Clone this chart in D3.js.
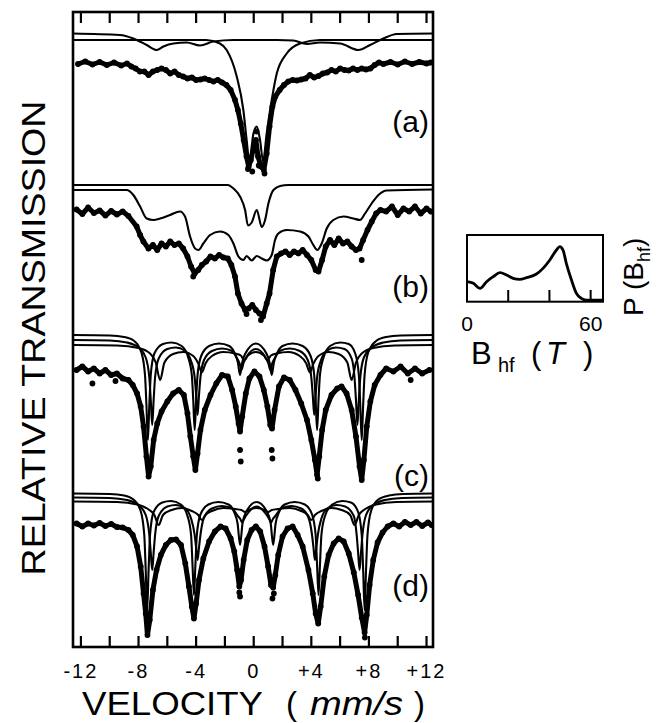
<!DOCTYPE html>
<html>
<head>
<meta charset="utf-8">
<script src="https://cdn.jsdelivr.net/npm/d3@7"></script>
<style>
  body { margin: 0; background: #fff; }
  svg { display: block; }
  text { font-family: "Liberation Sans", Arial, Helvetica, sans-serif; fill: #000; }
</style>
</head>
<body>
<div id="chart"></div>
<script>
// Mossbauer spectra (a)-(d) with subspectra, plus P(Bhf) inset

// velocity axis
const velTicks = [-12, -10, -8, -6, -4, -2, 0, 2, 4, 6, 8, 10, 12];
const velLabelVals = [-12, -8, -4, 0, 4, 8, 12];
const velLabelText = ["-12", "-8", "-4", "0", "+4", "+8", "+12"];
const panelNames = ["(a)", "(b)", "(c)", "(d)"];

// (a) measured points [velocity, transmission %]
const specA = [[-12.2,99.8],[-11.7,100.3],[-11.2,99.7],[-10.7,100.2],[-10.2,99.6],[-9.7,100.1],[-9.2,99.5],[-8.8,99.9],[-8.5,99.3],[-8.2,98.9],[-7.9,98.3],[-7.6,98.3],[-7.3,97.6],[-7.0,98.3],[-6.7,98.6],[-6.4,98.9],[-6.1,98.6],[-5.8,97.9],[-5.5,98.3],[-5.2,97.6],[-4.9,97.3],[-4.6,96.9],[-4.3,97.1],[-4.0,96.6],[-3.7,96.7],[-3.4,96.9],[-3.1,96.6],[-2.8,96.3],[-2.5,96.6],[-2.2,96.1],[-1.9,95.6],[-1.6,94.6],[-1.3,92.6],[-1.1,90.6],[-0.9,87.9],[-0.7,84.6],[-0.5,81.3],[-0.35,79.3],[-0.2,80.6],[0.0,83.3],[0.15,84.6],[0.3,81.3],[0.5,79.3],[0.7,78.6],[0.9,81.9],[1.1,87.3],[1.3,91.3],[1.5,93.3],[1.8,94.6],[2.1,95.6],[2.4,96.3],[2.7,96.6],[3.0,96.5],[3.3,96.7],[3.6,96.9],[3.9,97.6],[4.2,97.1],[4.5,97.4],[4.8,97.9],[5.1,98.1],[5.4,98.6],[5.7,98.3],[6.0,98.9],[6.3,98.6],[6.6,98.5],[6.9,98.9],[7.2,98.6],[7.5,98.9],[7.8,98.7],[8.1,98.9],[8.4,99.6],[8.7,100.1],[9.0,99.8],[9.5,100.2],[10.0,99.7],[10.5,100.3],[11.0,99.8],[11.5,100.2],[12.0,99.9],[12.3,100.1]];
const strayA = [[-0.1,78.3],[0.2,86.3],[0.35,79.5],[-0.4,78.8],[0.75,77.9]];
const fitA1 = [[-12.55,104.6],[-3.3,104.6],[-2.35,103.9],[-1.88,102.6],[-1.18,97.3],[-0.72,90.6],[-0.49,84.6],[-0.3,80.3],[-0.02,85.9],[0.21,87.3],[0.44,84.6],[0.65,80.3],[0.9,85.9],[1.25,92.6],[1.6,97.9],[2.29,101.9],[3.22,103.9],[4.6,104.6],[12.45,104.6]];
const fitA2 = [[-12.55,105.9],[-9.3,105.6],[-8.36,104.9],[-7.43,103.6],[-6.74,102.6],[-6.27,103.3],[-5.58,103.9],[-4.65,104.1],[-3.73,103.5],[-2.8,104.3],[-1.41,104.6],[1.6,104.6],[2.75,104.5],[3.68,103.8],[4.61,104.1],[6.0,103.9],[7.27,102.6],[8.08,103.6],[9.0,104.9],[9.93,105.8],[12.45,105.9]];

// (b)
const specB = [[-12.3,100.5],[-11.9,99.6],[-11.5,100.9],[-11.1,99.8],[-10.7,100.3],[-10.3,99.3],[-9.9,100.2],[-9.5,99.5],[-9.1,100.1],[-8.7,99.2],[-8.13,97.1],[-7.89,95.4],[-7.66,94.1],[-7.31,92.7],[-7.0,93.4],[-6.7,92.4],[-6.4,93.7],[-6.1,93.1],[-5.8,94.1],[-5.5,93.4],[-5.2,93.7],[-4.9,92.7],[-4.6,91.1],[-4.35,89.1],[-4.1,87.7],[-3.85,88.4],[-3.6,89.4],[-3.3,90.1],[-3.0,91.1],[-2.7,90.7],[-2.4,91.4],[-2.1,90.9],[-1.8,90.7],[-1.55,89.4],[-1.3,87.1],[-1.1,83.7],[-0.85,81.7],[-0.6,80.4],[-0.35,80.7],[-0.1,81.4],[0.15,80.4],[0.4,79.7],[0.65,79.1],[0.9,81.7],[1.1,83.7],[1.35,88.4],[1.6,91.1],[1.9,91.7],[2.2,92.1],[2.5,91.4],[2.8,92.1],[3.1,91.7],[3.4,92.4],[3.7,91.4],[4.0,90.4],[4.3,88.4],[4.5,88.1],[4.75,90.4],[5.0,93.1],[5.3,94.4],[5.6,93.4],[5.9,94.7],[6.2,93.7],[6.5,94.1],[6.8,93.1],[7.1,92.4],[7.35,92.7],[7.6,94.4],[7.9,96.4],[8.2,98.1],[8.5,99.7],[8.8,100.4],[9.2,100.1],[9.6,101.1],[10.0,99.4],[10.4,100.7],[10.8,100.1],[11.2,101.1],[11.6,99.7],[12.0,100.7],[12.3,100.1]];
const strayB = [[7.5,90.4],[-4.2,87.1],[0.5,78.4],[-0.5,79.6]];
const fitB1 = [[-12.55,105.4],[-1.8,105.4],[-1.41,104.7],[-0.95,103.1],[-0.6,100.4],[-0.4,97.3],[-0.14,97.9],[0.21,100.4],[0.56,97.0],[0.79,98.4],[1.02,101.7],[1.37,104.4],[1.83,105.2],[2.4,105.4],[12.45,105.4]];
const fitB2 = [[-12.55,104.4],[-8.82,104.4],[-8.36,103.4],[-7.89,101.1],[-7.43,98.7],[-6.97,98.4],[-6.5,98.7],[-5.81,99.4],[-5.12,100.1],[-4.77,99.1],[-4.42,95.1],[-4.07,92.7],[-3.84,92.4],[-3.5,93.7],[-3.03,95.4],[-2.34,96.1],[-1.76,95.4],[-1.41,93.7],[-1.06,91.1],[-0.72,90.4],[-0.49,91.2],[-0.14,90.3],[0.21,91.2],[0.56,90.7],[0.9,90.3],[1.25,91.4],[1.48,94.4],[1.71,95.7],[2.29,96.4],[3.22,96.1],[3.8,95.1],[4.14,93.4],[4.42,92.4],[4.72,93.7],[5.07,96.7],[5.53,98.4],[6.23,99.1],[6.92,98.7],[7.38,98.4],[7.73,99.7],[8.19,101.7],[8.66,103.4],[9.24,104.3],[12.45,104.5]];

// (c)
const specC = [[-12.3,100],[-11.9,100.7],[-11.5,99.7],[-11.1,100.3],[-10.7,99.3],[-10.3,100],[-9.9,99],[-9.5,99.3],[-9.1,98.3],[-8.7,98],[-8.4,97],[-8.1,95.3],[-7.85,92.7],[-7.65,88.7],[-7.45,82.7],[-7.3,78.7],[-7.15,80.7],[-6.95,86],[-6.7,89.3],[-6.4,91.7],[-6.0,93.7],[-5.6,95.3],[-5.2,96],[-4.85,95],[-4.6,91.3],[-4.4,86.7],[-4.2,82.7],[-4.05,80],[-3.9,83.3],[-3.7,88],[-3.4,92],[-3.0,95],[-2.6,97.3],[-2.2,99],[-1.8,98.7],[-1.5,96],[-1.25,92.7],[-1.05,89.3],[-0.95,87.7],[-0.8,90.7],[-0.55,95.3],[-0.3,98.3],[0.05,99.7],[0.4,98.7],[0.7,96],[0.95,92.7],[1.15,89],[1.27,88.3],[1.45,92],[1.75,96.7],[2.1,98.5],[2.5,98],[2.9,96],[3.3,93.3],[3.7,90],[4.0,86],[4.25,82],[4.4,79],[4.55,82.7],[4.75,88],[5.0,92],[5.4,95],[5.8,96.3],[6.1,96.7],[6.45,95.3],[6.8,92],[7.1,86.7],[7.35,80.7],[7.5,78],[7.65,82],[7.85,88.7],[8.1,93.7],[8.4,97],[8.8,99],[9.2,100.3],[9.7,99.7],[10.2,100.7],[10.7,99.3],[11.2,100.3],[11.7,99.3],[12.2,100]];
const strayC = [[-0.95,84],[-0.9,81.7],[1.25,84],[1.3,82.3],[4.45,78.3],[-11.2,97.3],[10.9,98],[-9.6,97.8]];
const fitC1 = [[-12.55,107],[-10,106.9],[-9,106.6],[-8.3,105.8],[-7.8,103.5],[-7.55,99],[-7.45,93],[-7.35,86],[-7.25,93],[-7.15,99],[-6.9,103.3],[-6.3,105.2],[-5.7,105.5],[-5.0,104.8],[-4.55,102.5],[-4.3,99],[-4.2,94],[-4.1,88],[-4.0,94],[-3.9,99],[-3.65,102.8],[-3.1,104.8],[-2.4,105.3],[-1.7,104.8],[-1.3,103.2],[-1.1,101.5],[-0.95,99],[-0.8,101.5],[-0.6,103.2],[0.15,105.3],[0.9,103.2],[1.1,101.5],[1.25,99],[1.4,101.5],[1.6,103.2],[2.0,104.8],[2.7,105.3],[3.4,104.8],[3.95,102.8],[4.2,99],[4.3,94],[4.4,88],[4.5,94],[4.6,99],[4.85,102.5],[5.3,104.8],[6.0,105.5],[6.6,105.2],[7.05,103.3],[7.3,99],[7.4,93],[7.5,86],[7.6,93],[7.7,99],[7.95,103.5],[8.5,105.8],[9.2,106.6],[10.2,106.9],[12.45,107]];
const fitC2 = [[-12.55,106],[-10,105.9],[-8.8,105.5],[-8.0,104.5],[-7.5,102.5],[-7.25,98.5],[-7.15,94],[-7.05,89],[-6.95,94],[-6.85,98.5],[-6.6,102.3],[-6.0,104.2],[-5.4,104.5],[-4.8,103.9],[-4.35,101.8],[-4.1,98.5],[-4.0,95],[-3.9,91],[-3.8,95],[-3.7,98.5],[-3.45,102],[-2.9,103.8],[-2.2,104.3],[-1.5,103.8],[-1.15,102.3],[-0.98,101.3],[-0.85,100],[-0.72,101.3],[-0.5,102.6],[0.15,104.2],[0.8,102.6],[1.02,101.3],[1.15,100],[1.28,101.3],[1.45,102.3],[1.8,103.8],[2.5,104.3],[3.2,103.8],[3.75,102],[4.0,98.5],[4.1,95],[4.2,91],[4.3,95],[4.4,98.5],[4.65,101.8],[5.1,103.9],[5.7,104.5],[6.3,104.2],[6.8,102.3],[7.0,98.5],[7.1,94],[7.2,89],[7.3,94],[7.4,98.5],[7.65,102.5],[8.2,104.5],[9.0,105.5],[10.2,105.9],[12.45,106]];
const fitC3 = [[-12.55,105],[-9.5,104.9],[-8.0,104.4],[-7.2,103.3],[-6.8,101.5],[-6.5,98],[-6.2,101.5],[-5.6,103.2],[-4.9,103.6],[-4.2,102.8],[-3.85,101.3],[-3.6,99.5],[-3.35,101.3],[-2.9,102.8],[-2.1,103.6],[-1.3,103.3],[-0.9,102.9],[-0.65,102],[-0.4,102.9],[0.15,103.6],[0.7,102.9],[0.95,102],[1.2,102.9],[1.6,103.3],[2.4,103.6],[3.2,102.8],[3.65,101.3],[3.9,99.5],[4.15,101.3],[4.5,102.8],[5.2,103.6],[5.9,103.2],[6.5,101.5],[6.8,98],[7.1,101.5],[7.5,103.3],[8.3,104.4],[9.8,104.9],[12.45,105]];

// (d)
const specD = [[-12.3,100.3],[-11.9,99.7],[-11.5,100.3],[-11.1,99.9],[-10.7,100.4],[-10.3,99.8],[-9.9,100.2],[-9.5,99.6],[-9.1,99.5],[-8.7,99],[-8.4,98],[-8.1,95.7],[-7.85,91.7],[-7.65,86.3],[-7.5,82.3],[-7.38,78],[-7.22,81],[-7.0,87],[-6.75,91],[-6.45,94],[-6.1,96],[-5.75,97],[-5.4,97.1],[-5.05,96],[-4.75,92.3],[-4.5,87.7],[-4.3,83.7],[-4.15,81.3],[-4.0,84.3],[-3.8,89],[-3.5,93.3],[-3.1,96.7],[-2.7,98.7],[-2.3,99.7],[-1.95,99.3],[-1.6,97.3],[-1.35,94.7],[-1.15,91],[-1.0,87.7],[-0.88,89],[-0.7,93],[-0.45,97],[-0.15,99],[0.15,99.7],[0.45,98.7],[0.75,95.7],[1.0,91.7],[1.2,88],[1.35,87.5],[1.5,90],[1.7,94],[2.0,97.7],[2.35,99.3],[2.7,99.7],[3.05,98],[3.4,95.7],[3.8,91],[4.1,86.3],[4.3,82.3],[4.48,80.3],[4.65,83.7],[4.9,89.7],[5.2,94],[5.55,96.3],[5.9,97.3],[6.25,96.7],[6.6,94.3],[6.95,90.5],[7.25,86],[7.5,81.5],[7.7,78.5],[7.85,82],[8.05,88],[8.3,93],[8.6,96.5],[8.95,98.5],[9.3,99.7],[9.7,100.3],[10.1,99.7],[10.5,100.6],[10.9,100],[11.3,100.6],[11.7,99.8],[12.1,100.5],[12.35,100]];
const strayD = [[-0.95,85.7],[1.3,85.3],[-7.35,79.5],[7.72,77.5],[-1.0,86.5],[1.4,86.3]];
const fitD1 = [[-12.55,106.3],[-10,106.2],[-9,105.9],[-8.35,105.1],[-7.85,102.8],[-7.6,98],[-7.5,91],[-7.4,83],[-7.3,91],[-7.2,98],[-6.95,102.6],[-6.35,104.5],[-5.75,104.8],[-5.05,104.1],[-4.6,101.8],[-4.35,98],[-4.25,92],[-4.15,86],[-4.05,92],[-3.95,98],[-3.7,102.1],[-3.15,104.1],[-2.45,104.6],[-1.75,104.1],[-1.35,102.5],[-1.12,100.3],[-0.95,96],[-0.78,100.3],[-0.55,102.5],[0.2,104.6],[0.95,102.5],[1.18,100.3],[1.35,96],[1.52,100.3],[1.75,102.5],[2.15,104.1],[2.85,104.6],[3.55,104.1],[4.05,102.1],[4.3,98],[4.4,92],[4.5,86],[4.6,92],[4.7,98],[4.95,101.8],[5.45,104.1],[6.15,104.8],[6.75,104.5],[7.25,102.6],[7.5,98],[7.6,91],[7.7,83],[7.8,91],[7.9,98],[8.15,102.8],[8.65,105.1],[9.4,105.9],[10.4,106.2],[12.45,106.3]];
const fitD2 = [[-12.55,105.5],[-10,105.4],[-8.8,105],[-8.0,104],[-7.5,102],[-7.25,98],[-7.15,94.5],[-7.05,91],[-6.95,94.5],[-6.85,98],[-6.6,101.8],[-6.0,103.7],[-5.4,104],[-4.8,103.4],[-4.35,101.3],[-4.1,98],[-4.0,95.5],[-3.9,93],[-3.8,95.5],[-3.7,98],[-3.45,101.5],[-2.9,103.3],[-2.2,103.8],[-1.5,103.3],[-1.1,101.8],[-0.93,101.2],[-0.8,100.5],[-0.67,101.2],[-0.45,102.2],[0.2,103.7],[0.85,102.2],[1.07,101.2],[1.2,100.5],[1.33,101.2],[1.5,101.8],[1.9,103.3],[2.6,103.8],[3.3,103.3],[3.8,101.5],[4.05,98],[4.15,95.5],[4.25,93],[4.35,95.5],[4.45,98],[4.7,101.3],[5.15,103.4],[5.75,104],[6.35,103.7],[6.95,101.8],[7.15,98],[7.25,94.5],[7.35,91],[7.45,94.5],[7.55,98],[7.8,102],[8.3,104],[9.1,105],[10.3,105.4],[12.45,105.5]];
const fitD3 = [[-12.55,104.7],[-9.5,104.6],[-8.1,104.1],[-7.3,103.1],[-6.9,102],[-6.6,100],[-6.3,102],[-5.7,103],[-5.0,103.4],[-4.3,102.8],[-3.85,102],[-3.6,101],[-3.35,102],[-2.9,102.8],[-2.1,103.4],[-1.3,103.2],[-0.85,103],[-0.6,102.6],[-0.35,103],[0.2,103.4],[0.75,103],[1.0,102.6],[1.25,103],[1.7,103.2],[2.5,103.4],[3.3,102.8],[3.75,102],[4.0,101],[4.25,102],[4.7,102.8],[5.4,103.4],[6.1,103],[6.7,102],[7.0,100],[7.3,102],[7.7,103.1],[8.5,104.1],[9.9,104.6],[12.45,104.7]];

// inset: hyperfine field distribution
const bhfValues = [0, 3.1, 6.3, 9.5, 12.7, 16.0, 19.2, 22.4, 25.6, 28.9, 33.7, 36.9, 40.2, 43.4, 45.0, 46.6, 48.2, 50.7, 53.1, 55.5, 57.9, 66];
const pValues   = [0.30, 0.275, 0.20, 0.30, 0.375, 0.435, 0.40, 0.35, 0.335, 0.36, 0.415, 0.50, 0.625, 0.775, 0.825, 0.775, 0.575, 0.325, 0.125, 0.05, 0.025, 0.025];
const bhfTicks = [20, 40, 60];
const bhfLabels = [0, 60];

const W = 661, H = 723;
const frame = { left: 73, right: 433, top: 12, bottom: 647 };

const svg = d3.select("#chart").append("svg")
  .attr("width", W).attr("height", H);

const x = d3.scaleLinear().domain([-12.55, 12.45]).range([frame.left, frame.right]);

// one vertical scale per panel (data baseline 100 %)
const panelBase = [63, 212, 370, 525];
const yScales = panelBase.map(b => d3.scaleLinear().domain([100, 80]).range([b, b + 100]));

svg.append("clipPath").attr("id", "clip")
  .append("rect")
  .attr("x", frame.left).attr("y", frame.top)
  .attr("width", frame.right - frame.left).attr("height", frame.bottom - frame.top);

const plot = svg.append("g").attr("clip-path", "url(#clip)");

const panels = [
  { spec: specA, stray: strayA, fits: [fitA1, fitA2] },
  { spec: specB, stray: strayB, fits: [fitB1, fitB2] },
  { spec: specC, stray: strayC, fits: [fitC1, fitC2, fitC3] },
  { spec: specD, stray: strayD, fits: [fitD1, fitD2, fitD3] }
];

panels.forEach((p, i) => {
  const y = yScales[i];
  const fitLine = d3.line().x(d => x(d[0])).y(d => y(d[1])).curve(d3.curveMonotoneX);
  const dataLine = d3.line().x(d => x(d[0])).y(d => y(d[1]));

  p.fits.forEach(f => {
    plot.append("path")
      .datum(f)
      .attr("d", fitLine)
      .attr("fill", "none")
      .attr("stroke", "#000")
      .attr("stroke-width", 2.1);
  });

  plot.append("path")
    .datum(p.spec)
    .attr("d", dataLine)
    .attr("fill", "none")
    .attr("stroke", "#000")
    .attr("stroke-width", 5)
    .attr("stroke-linejoin", "round")
    .attr("stroke-linecap", "round");

  plot.selectAll(null)
    .data(p.spec.concat(p.stray))
    .enter().append("circle")
    .attr("cx", d => x(d[0]))
    .attr("cy", d => y(d[1]))
    .attr("r", 2.9)
    .attr("fill", "#000");

  svg.append("text")
    .attr("x", 429)
    .attr("y", [132, 297, 486, 596][i])
    .attr("text-anchor", "end")
    .style("font-size", "30px")
    .text(panelNames[i]);
});

// frame + ticks
svg.append("rect")
  .attr("x", frame.left).attr("y", frame.top)
  .attr("width", frame.right - frame.left).attr("height", frame.bottom - frame.top)
  .attr("fill", "none").attr("stroke", "#000").attr("stroke-width", 2.6);

svg.selectAll(".ttop").data(velTicks).enter().append("line")
  .attr("x1", d => x(d)).attr("x2", d => x(d))
  .attr("y1", frame.top).attr("y2", frame.top + 11)
  .attr("stroke", "#000").attr("stroke-width", 2.2);

svg.selectAll(".tbot").data(velTicks).enter().append("line")
  .attr("x1", d => x(d)).attr("x2", d => x(d))
  .attr("y1", frame.bottom).attr("y2", frame.bottom - 11)
  .attr("stroke", "#000").attr("stroke-width", 2.2);

svg.selectAll(".tlab").data(velLabelVals).enter().append("text")
  .attr("x", d => x(d))
  .attr("y", 678)
  .attr("text-anchor", "middle")
  .style("font-size", "20px")
  .style("letter-spacing", "2px")
  .text((d, i) => velLabelText[i]);

// axis titles
svg.append("text")
  .attr("x", 82).attr("y", 715)
  .attr("textLength", 181).attr("lengthAdjust", "spacingAndGlyphs")
  .style("font-size", "33px")
  .text("VELOCITY");
svg.append("text").attr("x", 286).attr("y", 715).style("font-size", "33px").text("(");
svg.append("text")
  .attr("x", 310).attr("y", 715)
  .attr("textLength", 93).attr("lengthAdjust", "spacingAndGlyphs")
  .style("font-size", "33px").style("font-style", "italic")
  .text("mm/s");
svg.append("text").attr("x", 414).attr("y", 715).style("font-size", "33px").text(")");

svg.append("text")
  .attr("transform", "translate(45,338) rotate(-90)")
  .attr("text-anchor", "middle")
  .attr("textLength", 475).attr("lengthAdjust", "spacingAndGlyphs")
  .style("font-size", "34px")
  .text("RELATIVE TRANSMISSION");

// inset
const bx = d3.scaleLinear().domain([0, 66]).range([467, 603]);
const py = d3.scaleLinear().domain([0, 1]).range([301.7, 235]);

svg.append("path")
  .datum(bhfValues.map((b, i) => [b, pValues[i]]))
  .attr("d", d3.line().x(d => bx(d[0])).y(d => py(d[1])).curve(d3.curveMonotoneX))
  .attr("fill", "none").attr("stroke", "#000").attr("stroke-width", 2.8);

svg.append("rect")
  .attr("x", 467).attr("y", 235).attr("width", 136).attr("height", 66.7)
  .attr("fill", "none").attr("stroke", "#000").attr("stroke-width", 2);

svg.selectAll(".btick").data(bhfTicks).enter().append("line")
  .attr("x1", d => bx(d)).attr("x2", d => bx(d))
  .attr("y1", 301.7).attr("y2", 290)
  .attr("stroke", "#000").attr("stroke-width", 2);

svg.selectAll(".blab").data(bhfLabels).enter().append("text")
  .attr("x", d => bx(d)).attr("y", 331)
  .attr("text-anchor", "middle")
  .style("font-size", "21px")
  .text(d => d);

const bt = svg.append("text").attr("y", 364).style("font-size", "31px");
bt.append("tspan").attr("x", 471).text("B");
bt.append("tspan").attr("x", 498).attr("dy", 8).style("font-size", "20px").text("hf");
bt.append("tspan").attr("x", 531).attr("dy", -8).text("(");
bt.append("tspan").attr("x", 546).style("font-style", "italic").text("T");
bt.append("tspan").attr("x", 583).text(")");

const pt = svg.append("text")
  .attr("transform", "translate(643,316) rotate(-90)")
  .style("font-size", "28px");
pt.append("tspan").text("P (B");
pt.append("tspan").attr("dy", 7).style("font-size", "18px").text("hf");
pt.append("tspan").attr("dy", -7).text(")");
</script>
</body>
</html>
